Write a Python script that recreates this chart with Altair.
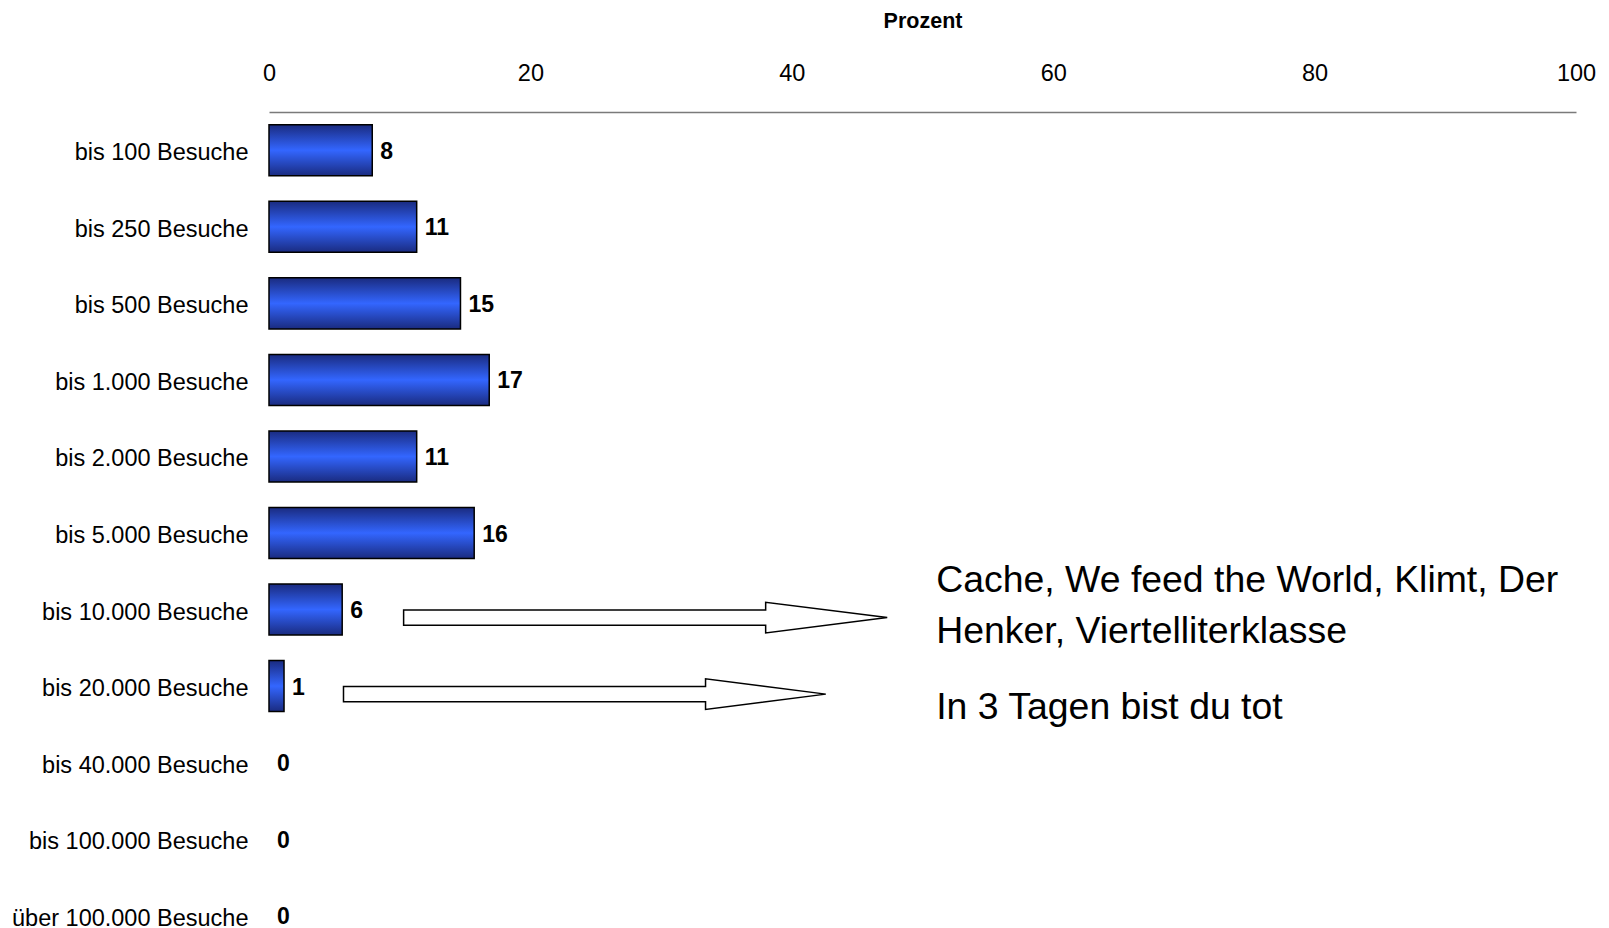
import altair as alt
import pandas as pd

FONT = "Liberation Sans"

categories = ["bis 100 Besuche", "bis 250 Besuche", "bis 500 Besuche", "bis 1.000 Besuche",
              "bis 2.000 Besuche", "bis 5.000 Besuche", "bis 10.000 Besuche", "bis 20.000 Besuche",
              "bis 40.000 Besuche", "bis 100.000 Besuche", "über 100.000 Besuche"]
values = [7.9, 11.3, 14.65, 16.85, 11.3, 15.7, 5.6, 1.15, 0, 0, 0]
x_ticks = [0, 20, 40, 60, 80, 100]

note_lines = ["Cache, We feed the World, Klimt, Der", "Henker, Viertelliterklasse", "In 3 Tagen bist du tot"]
note_rows = [6.13, 6.79, 7.79]
note_x = 51.05

arrow_rows = [6, 7]
arrow_start = [10.3, 5.7]
arrow_head = [38.0, 33.4]
arrow_tip = [47.3, 42.6]

df = pd.DataFrame({"cat": categories, "value": values})
notes = pd.DataFrame({"line": note_lines, "row": note_rows, "x": [note_x] * len(note_lines)})

shaft = 0.1
head = 0.2
shift = 0.605
rows = []
for k, r in enumerate(arrow_rows):
    c = r + shift
    rows += [
        {"arrow": k, "x": arrow_start[k], "y": c - shaft, "y2": c + shaft},
        {"arrow": k, "x": arrow_head[k], "y": c - shaft, "y2": c + shaft},
        {"arrow": k, "x": arrow_head[k], "y": c - head, "y2": c + head},
        {"arrow": k, "x": arrow_tip[k], "y": c, "y2": c},
    ]
arrows = pd.DataFrame(rows)

W = 1307
H = 842

xscale = alt.Scale(domain=[0, 100], nice=False, zero=True)
yband = alt.Scale(domain=categories, paddingInner=0.333, paddingOuter=0.1667)
yq = alt.Scale(domain=[0, 11], reverse=True, nice=False, zero=False)

xaxis = alt.Axis(orient="top", values=x_ticks, title="Prozent", titleFont=FONT, titleFontSize=21.5,
                 titleFontWeight="bold", titleColor="black", titleY=-85, titleBaseline="alphabetic",
                 labelFont=FONT, labelFontSize=23.5, labelColor="black", labelBaseline="alphabetic",
                 labelPadding=31.5, labelFlush=False, ticks=False, tickSize=0, grid=False,
                 domainColor="#7a7a7a", domainWidth=1.5)
yaxis = alt.Axis(title=None, ticks=False, tickSize=0, domain=False, labelFont=FONT, labelFontSize=23.5,
                 labelColor="black", labelPadding=21, labelLimit=400, labelOffset=3)

grad = alt.LinearGradient(gradient="linear", x1=0, y1=0, x2=0, y2=1,
                          stops=[alt.GradientStop(color="#1a2b80", offset=0),
                                 alt.GradientStop(color="#3366ff", offset=0.5),
                                 alt.GradientStop(color="#1a2b80", offset=1)])

bars = alt.Chart(df).transform_filter("datum.value > 0").mark_bar(
    color=grad, stroke="black", strokeWidth=1.5
).encode(
    x=alt.X("value:Q", scale=xscale, axis=xaxis, title="Prozent"),
    y=alt.Y("cat:N", scale=yband, axis=yaxis, sort=categories),
)

labels = alt.Chart(df).mark_text(
    align="left", baseline="middle", dx=8, dy=1.5, font=FONT, fontSize=23, fontWeight="bold", color="black"
).encode(
    x=alt.X("value:Q", scale=xscale, axis=xaxis, title="Prozent"),
    y=alt.Y("cat:N", scale=yband, axis=yaxis, sort=categories),
    text=alt.Text("value:Q", format=".0f"),
)

arrow_layer = alt.Chart(arrows).mark_area(
    orient="vertical", interpolate="linear", fill="white", stroke="black", strokeWidth=1.5,
    opacity=1, fillOpacity=1
).encode(
    x=alt.X("x:Q", scale=xscale, axis=xaxis, title="Prozent"),
    y=alt.Y("y:Q", scale=yq, axis=None),
    y2="y2:Q",
    detail="arrow:N",
)

note_layer = alt.Chart(notes).mark_text(
    align="left", baseline="middle", font=FONT, fontSize=37.4, color="black"
).encode(
    x=alt.X("x:Q", scale=xscale, axis=xaxis, title="Prozent"),
    y=alt.Y("row:Q", scale=yq, axis=None),
    text="line:N",
)

chart = alt.layer(
    alt.layer(bars, labels),
    alt.layer(arrow_layer, note_layer),
).resolve_scale(y="independent").properties(
    width=W, height=H,
    padding={"left": 261, "top": 104, "right": 25, "bottom": 10},
    autosize=alt.AutoSizeParams(type="none"),
    background="white",
).configure_view(stroke=None)

chart.save("out.html", embed_options={"renderer": "svg", "actions": False})
